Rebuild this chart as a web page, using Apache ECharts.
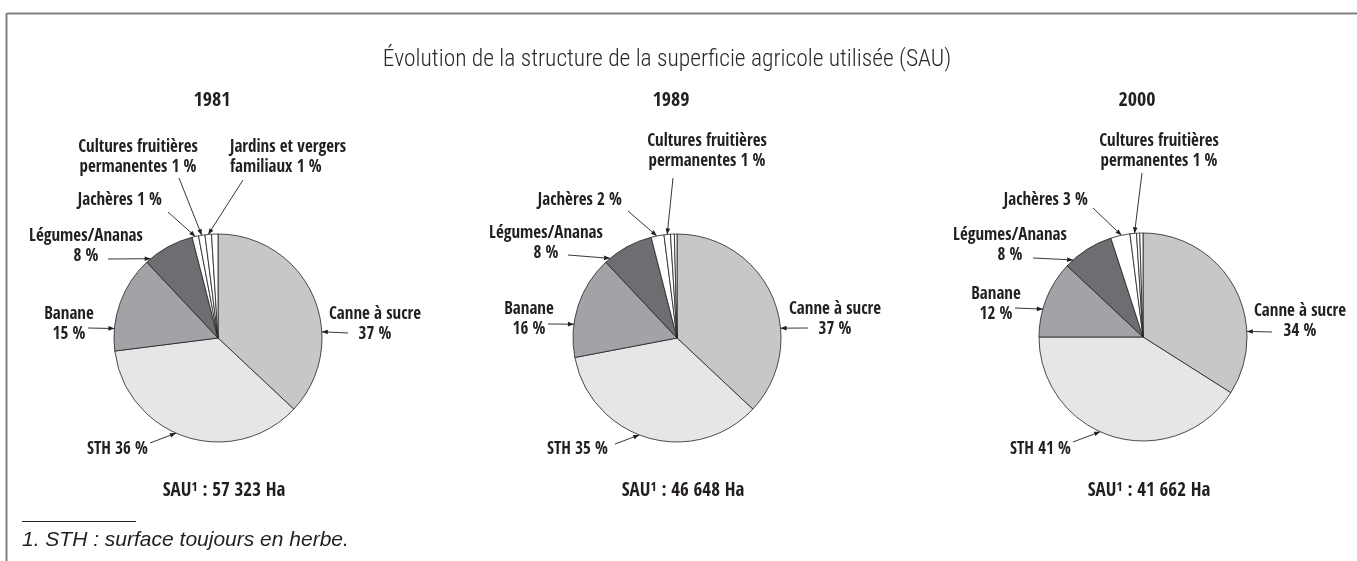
<!DOCTYPE html>
<html>
<head>
<meta charset="utf-8">
<script src="https://cdn.jsdelivr.net/npm/echarts@6/dist/echarts.min.js"></script>
<style>
  html, body { margin: 0; padding: 0; background: #fff; }
  #main { width: 1357px; height: 561px; }
</style>
</head>
<body>
<div id="main"></div>
<script>
// categories, clockwise from 12 o'clock
var categories = ['Canne à sucre', 'STH', 'Banane', 'Légumes/Ananas', 'Jachères',
  'Cultures fruitières permanentes', 'Jardins et vergers familiaux', 'Autres'];
var years = ['1981', '1989', '2000'];
var sauTotals = ['57 323', '46 648', '41 662'];
var values1981 = [37, 36, 15, 8, 1, 1, 1, 1];
var values1989 = [37, 35, 16, 8, 2, 1, 0.6, 0.4];
var values2000 = [34, 41, 12, 8, 3, 1, 0.5, 0.5];
var allValues = [values1981, values1989, values2000];

// label texts (null = no label)
var labelText = [
  function (v) { return 'Canne à sucre\n' + v + ' %'; },
  function (v) { return 'STH ' + v + ' %'; },
  function (v) { return 'Banane\n' + v + ' %'; },
  function (v) { return 'Légumes/Ananas\n' + v + ' %'; },
  function (v) { return 'Jachères ' + v + ' %'; },
  function (v) { return 'Cultures fruitières\npermanentes ' + v + ' %'; },
  function (v) { return 'Jardins et vergers\nfamiliaux ' + v + ' %'; },
  null
];

var colors = ['#c6c7c9', '#e5e6e7', '#a2a3a6', '#6d6e71', '#ffffff', '#ffffff', '#ffffff', '#ffffff'];
var ink = '#231f20';
var narrow = "'Open Sans Condensed', 'Roboto Condensed', 'DejaVu Sans Condensed', sans-serif";

var centers = [[218, 338], [677, 338], [1143, 337]];
var radius = 104;

// per pie: label anchor [dx, dy, align], arrow tail [dx, dy], arrow tip position inside slice (0..1)
var layouts = [
  {
    0: { lab: [157, -13, 'center'], tail: [130, -5], frac: 0.65 },
    1: { lab: [-70, 112, 'right'], tail: [-68, 105], frac: 0.545 },
    2: { lab: [-149, -13, 'center'], tail: [-130, -10], frac: 0.23 },
    3: { lab: [-132, -91, 'center'], tail: [-110, -79], frac: 0.1 },
    4: { lab: [-56, -137, 'right'], tail: [-50, -126], frac: 0.5 },
    5: { lab: [-80, -180, 'center'], tail: [-39, -160], frac: 0.5 },
    6: { lab: [12, -180, 'left'], tail: [25, -158], frac: 0.5 }
  },
  {
    0: { lab: [158, -18, 'center'], tail: [131, -10], frac: 0.635 },
    1: { lab: [-69, 112, 'right'], tail: [-62, 106], frac: 0.54 },
    2: { lab: [-148, -18, 'center'], tail: [-129, -14], frac: 0.32 },
    3: { lab: [-131, -94, 'center'], tail: [-109, -83], frac: 0.11 },
    4: { lab: [-55, -137, 'right'], tail: [-49, -127], frac: 0.45 },
    5: { lab: [30, -186, 'center'], tail: [-4, -160], frac: 0.5 }
  },
  {
    0: { lab: [157, -15, 'center'], tail: [129, -5], frac: 0.71 },
    1: { lab: [-72, 113, 'right'], tail: [-70, 105], frac: 0.555 },
    2: { lab: [-147, -32, 'center'], tail: [-128, -29], frac: 0.36 },
    3: { lab: [-133, -91, 'center'], tail: [-110, -79], frac: 0.16 },
    4: { lab: [-55, -136, 'right'], tail: [-50, -129], frac: 0.56 },
    5: { lab: [16, -185, 'center'], tail: [-1, -164], frac: 0.7 }
  }
];

// point on the rim of pie p, inside slice i
function arrowTip(p, i) {
  var vals = allValues[p];
  var sum = vals.reduce(function (a, b) { return a + b; }, 0);
  var start = 0;
  for (var k = 0; k < i; k++) start += vals[k];
  var ang = (start + layouts[p][i].frac * vals[i]) / sum * Math.PI * 2;
  var c = centers[p];
  return [c[0] + radius * Math.sin(ang), c[1] - radius * Math.cos(ang)];
}

function arrowTail(p, i) {
  var c = centers[p], t = layouts[p][i].tail;
  return [c[0] + t[0], c[1] + t[1]];
}

var series = allValues.map(function (vals, p) {
  return {
    name: years[p],
    type: 'pie',
    center: centers[p],
    radius: radius,
    startAngle: 90,
    clockwise: true,
    avoidLabelOverlap: false,
    silent: true,
    itemStyle: { borderColor: ink, borderWidth: 0.8 },
    label: {
      show: true,
      position: 'outside',
      color: ink,
      fontFamily: narrow,
      fontWeight: 'bold',
      fontSize: 17,
      lineHeight: 20
    },
    labelLine: { show: true, length: 5, length2: 5, lineStyle: { color: ink, width: 0.9 } },
    labelLayout: function (params) {
      var spec = layouts[p][params.dataIndex];
      if (!spec) return {};
      var c = centers[p];
      return {
        x: c[0] + spec.lab[0],
        y: c[1] + spec.lab[1],
        align: spec.lab[2],
        verticalAlign: 'middle',
        labelLinePoints: [arrowTail(p, params.dataIndex), arrowTail(p, params.dataIndex), arrowTip(p, params.dataIndex)]
      };
    },
    data: vals.map(function (v, i) {
      var hasLabel = labelText[i] && layouts[p][i];
      return {
        name: categories[i],
        value: v,
        itemStyle: { color: colors[i] },
        label: { show: !!hasLabel, formatter: hasLabel ? labelText[i](v) : '' },
        labelLine: { show: !!hasLabel }
      };
    })
  };
});

// arrowheads at the tip of each label line
var arrowHeads = [];
layouts.forEach(function (lay, p) {
  Object.keys(lay).forEach(function (k) {
    var i = +k;
    var tip = arrowTip(p, i), tail = arrowTail(p, i);
    var dx = tip[0] - tail[0], dy = tip[1] - tail[1];
    var len = Math.sqrt(dx * dx + dy * dy);
    var ux = dx / len, uy = dy / len;
    var L = 6, W = 2.3;
    var bx = tip[0] - ux * L, by = tip[1] - uy * L;
    arrowHeads.push({
      type: 'polygon',
      silent: true,
      z: 100,
      shape: { points: [tip, [bx - uy * W, by + ux * W], [bx + uy * W, by - ux * W]] },
      style: { fill: ink }
    });
  });
});

var texts = [{
  type: 'text', x: 667, y: 60,
  style: { text: 'Évolution de la structure de la superficie agricole utilisée (SAU)',
    fill: '#2b2829', font: "300 23.5px 'Roboto Condensed', 'DejaVu Sans Condensed', sans-serif",
    textAlign: 'center', textVerticalAlign: 'middle' }
}];
years.forEach(function (y, p) {
  texts.push({
    type: 'text', x: centers[p][0] - 6, y: 101,
    style: { text: y, fill: ink, font: "bold 20px " + narrow, textAlign: 'center', textVerticalAlign: 'middle' }
  });
  texts.push({
    type: 'text', x: centers[p][0] + 6, y: 491,
    style: { text: 'SAU¹ : ' + sauTotals[p] + ' Ha', fill: ink, font: "bold 19px " + narrow,
      textAlign: 'center', textVerticalAlign: 'middle' }
  });
});

var frame = [
  { type: 'line', shape: { x1: 7, y1: 13.5, x2: 1357, y2: 13.5 }, style: { stroke: '#7f7f7f', lineWidth: 2 } },
  { type: 'line', shape: { x1: 6.5, y1: 13, x2: 6.5, y2: 561 }, style: { stroke: '#7f7f7f', lineWidth: 2 } },
  { type: 'line', shape: { x1: 22, y1: 521.5, x2: 136, y2: 521.5 }, style: { stroke: ink, lineWidth: 1 } },
  { type: 'text', x: 22, y: 540,
    style: { text: '1. STH : surface toujours en herbe.', fill: ink,
      font: "italic 21px 'Liberation Sans', Arial, sans-serif", textAlign: 'left', textVerticalAlign: 'middle' } }
];

var chart = echarts.init(document.getElementById('main'), null, { renderer: 'canvas' });
chart.setOption({
  animation: false,
  backgroundColor: '#fff',
  series: series,
  graphic: frame.concat(texts).concat(arrowHeads)
});
</script>
</body>
</html>
